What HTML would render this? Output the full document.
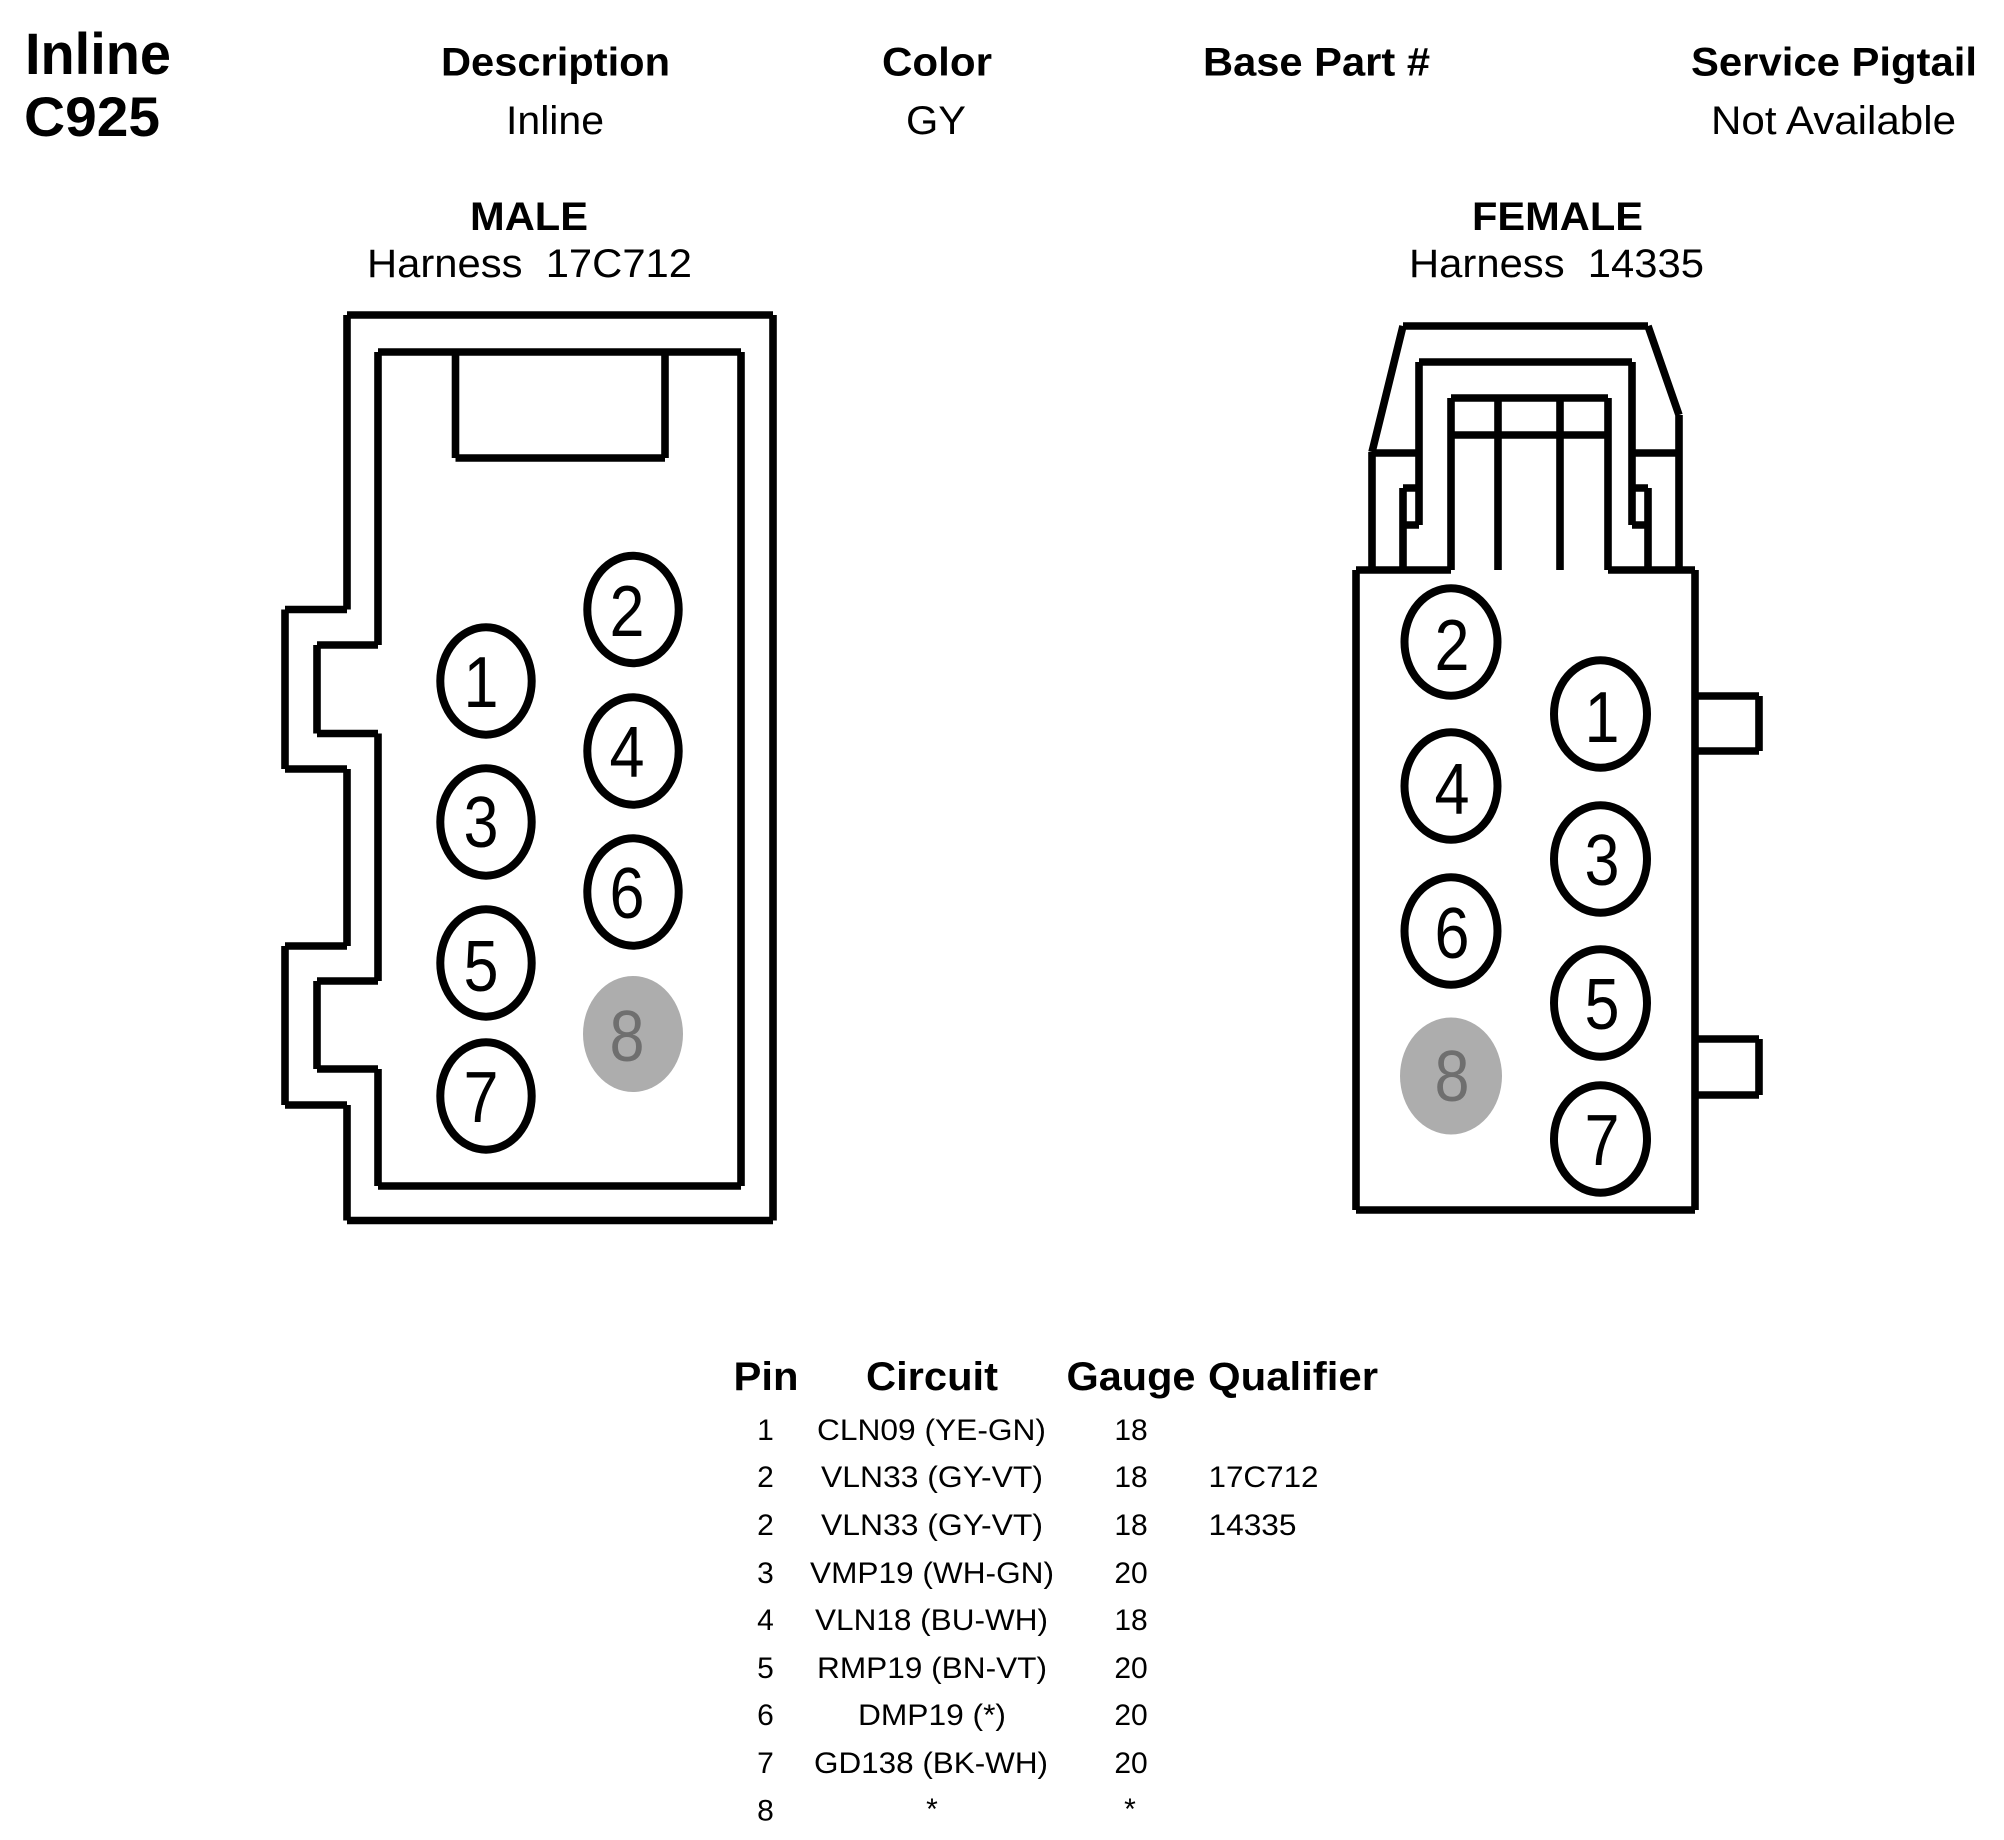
<!DOCTYPE html>
<html>
<head>
<meta charset="utf-8">
<style>
html,body{margin:0;padding:0;background:#fff;width:2004px;height:1840px;overflow:hidden}
svg{display:block}
text{font-family:"Liberation Sans",Arial,sans-serif;fill:#000}
.b{font-weight:bold;font-size:40px}
.r{font-size:40px}
.d{font-size:72px;text-anchor:middle}
.l{fill:none;stroke:#000;stroke-width:7.6}
.p{fill:#fff;stroke:#000;stroke-width:8}
</style>
</head>
<body>
<svg xmlns="http://www.w3.org/2000/svg" width="2004" height="1840" viewBox="0 0 2004 1840">
<rect width="2004" height="1840" fill="#fff"/>

<!-- Header -->
<text x="25" y="74" font-size="58" font-weight="bold" textLength="146" lengthAdjust="spacingAndGlyphs">Inline</text>
<text x="24" y="136" font-size="56" font-weight="bold" textLength="136" lengthAdjust="spacingAndGlyphs">C925</text>
<text class="b" x="441" y="75.5" textLength="229" lengthAdjust="spacingAndGlyphs">Description</text>
<text class="b" x="882" y="75.5" textLength="110" lengthAdjust="spacingAndGlyphs">Color</text>
<text class="b" x="1203" y="75.5" textLength="227" lengthAdjust="spacingAndGlyphs">Base Part #</text>
<text class="b" x="1691" y="75.5" textLength="286" lengthAdjust="spacingAndGlyphs">Service Pigtail</text>
<text class="r" x="506" y="134" textLength="98" lengthAdjust="spacingAndGlyphs">Inline</text>
<text class="r" x="906" y="134" textLength="60" lengthAdjust="spacingAndGlyphs">GY</text>
<text class="r" x="1711" y="134" textLength="245" lengthAdjust="spacingAndGlyphs">Not Available</text>

<text class="b" x="470" y="230" textLength="118" lengthAdjust="spacingAndGlyphs">MALE</text>
<text class="r" x="367" y="277" textLength="325" lengthAdjust="spacingAndGlyphs" xml:space="preserve">Harness  17C712</text>
<text class="b" x="1472" y="230" textLength="171" lengthAdjust="spacingAndGlyphs">FEMALE</text>
<text class="r" x="1409" y="277" textLength="295" lengthAdjust="spacingAndGlyphs" xml:space="preserve">Harness  14335</text>

<!-- Male connector -->
<path class="l" d="M347,315L773,315M773,315L773,1220.5M773,1220.5L347,1220.5M347,1220.5L347,1105M347,1105L285,1105M285,1105L285,946M285,946L347,946M347,946L347,769M347,769L285,769M285,769L285,609.5M285,609.5L347,609.5M347,609.5L347,315"/>
<path class="l" d="M378,352L741,352M741,352L741,1186M741,1186L378,1186M378,1186L378,1069M378,1069L317,1069M317,1069L317,981M317,981L378,981M378,981L378,733.5M378,733.5L317,733.5M317,733.5L317,645M317,645L378,645M378,645L378,352"/>
<path class="l" d="M455.5,352L455.5,458M455.5,458L665,458M665,458L665,352"/>

<ellipse class="p" cx="486" cy="681" rx="45.7" ry="53.7"/>
<ellipse class="p" cx="486" cy="822" rx="45.7" ry="53.7"/>
<ellipse class="p" cx="486" cy="963" rx="45.7" ry="53.7"/>
<ellipse class="p" cx="486" cy="1096" rx="45.7" ry="53.7"/>
<ellipse class="p" cx="633" cy="609.5" rx="45.7" ry="53.7"/>
<ellipse class="p" cx="633" cy="751" rx="45.7" ry="53.7"/>
<ellipse class="p" cx="633" cy="892" rx="45.7" ry="53.7"/>
<ellipse cx="633" cy="1034" rx="50" ry="58" fill="#adadad"/>

<text class="d" x="481" y="707" textLength="35" lengthAdjust="spacingAndGlyphs">1</text>
<text class="d" x="481" y="847" textLength="35" lengthAdjust="spacingAndGlyphs">3</text>
<text class="d" x="481" y="991" textLength="35" lengthAdjust="spacingAndGlyphs">5</text>
<text class="d" x="481" y="1122" textLength="35" lengthAdjust="spacingAndGlyphs">7</text>
<text class="d" x="627" y="636" textLength="35" lengthAdjust="spacingAndGlyphs">2</text>
<text class="d" x="627" y="777" textLength="35" lengthAdjust="spacingAndGlyphs">4</text>
<text class="d" x="627" y="918" textLength="35" lengthAdjust="spacingAndGlyphs">6</text>
<text class="d" x="627" y="1061" textLength="35" lengthAdjust="spacingAndGlyphs" style="fill:#6f6f6f">8</text>

<!-- Female connector -->
<path class="l" d="M1403,326L1648,326M1403,326L1372,452M1648,326L1679,415M1372,452L1372,570M1679,415L1679,570M1372,453L1419,453M1632,453L1679,453"/>
<path class="l" d="M1419,362L1632,362M1419,362L1419,525M1632,362L1632,525M1403,488L1419,488M1403,525L1419,525M1403,488L1403,570M1632,488L1648,488M1632,525L1648,525M1648,488L1648,570"/>
<path class="l" d="M1451,398L1608,398M1451,398L1451,570M1608,398L1608,570M1451,435L1608,435M1498,398L1498,570M1560,398L1560,570"/>
<path class="l" d="M1356,570L1451,570M1608,570L1695,570M1356,570L1356,1210M1356,1210L1695,1210M1695,570L1695,1210"/>
<path class="l" d="M1695,696L1759,696M1759,696L1759,751M1759,751L1695,751M1695,1039L1759,1039M1759,1039L1759,1095M1759,1095L1695,1095"/>

<ellipse class="p" cx="1451" cy="642" rx="46.5" ry="53.7"/>
<ellipse class="p" cx="1451" cy="786" rx="46.5" ry="53.7"/>
<ellipse class="p" cx="1451" cy="931" rx="46.5" ry="53.7"/>
<ellipse cx="1451" cy="1076" rx="51" ry="58.5" fill="#adadad"/>
<ellipse class="p" cx="1600.5" cy="714" rx="46.5" ry="53.7"/>
<ellipse class="p" cx="1600.5" cy="859" rx="46.5" ry="53.7"/>
<ellipse class="p" cx="1600.5" cy="1003" rx="46.5" ry="53.7"/>
<ellipse class="p" cx="1600.5" cy="1139" rx="46.5" ry="53.7"/>

<text class="d" x="1452" y="670" textLength="35" lengthAdjust="spacingAndGlyphs">2</text>
<text class="d" x="1452" y="814" textLength="35" lengthAdjust="spacingAndGlyphs">4</text>
<text class="d" x="1452" y="958" textLength="35" lengthAdjust="spacingAndGlyphs">6</text>
<text class="d" x="1452" y="1101" textLength="35" lengthAdjust="spacingAndGlyphs" style="fill:#6f6f6f">8</text>
<text class="d" x="1602" y="742" textLength="35" lengthAdjust="spacingAndGlyphs">1</text>
<text class="d" x="1602" y="885" textLength="35" lengthAdjust="spacingAndGlyphs">3</text>
<text class="d" x="1602" y="1029" textLength="35" lengthAdjust="spacingAndGlyphs">5</text>
<text class="d" x="1602" y="1165" textLength="35" lengthAdjust="spacingAndGlyphs">7</text>

<!-- Table -->
<text class="b" x="733.5" y="1390" textLength="65" lengthAdjust="spacingAndGlyphs">Pin</text>
<text class="b" x="866" y="1390" textLength="132" lengthAdjust="spacingAndGlyphs">Circuit</text>
<text class="b" x="1066.5" y="1390" textLength="129" lengthAdjust="spacingAndGlyphs">Gauge</text>
<text class="b" x="1208" y="1390" textLength="170" lengthAdjust="spacingAndGlyphs">Qualifier</text>

<g style="font-size:30px" text-anchor="middle">
<text x="765.5" y="1440">1</text>
<text x="765.5" y="1487">2</text>
<text x="765.5" y="1535">2</text>
<text x="765.5" y="1583">3</text>
<text x="765.5" y="1630">4</text>
<text x="765.5" y="1678">5</text>
<text x="765.5" y="1725">6</text>
<text x="765.5" y="1773">7</text>
<text x="765.5" y="1820.5">8</text>
<text x="1131" y="1440">18</text>
<text x="1131" y="1487">18</text>
<text x="1131" y="1535">18</text>
<text x="1131" y="1583">20</text>
<text x="1131" y="1630">18</text>
<text x="1131" y="1678">20</text>
<text x="1131" y="1725">20</text>
<text x="1131" y="1773">20</text>
<text x="1130" y="1819">*</text>
<text x="932" y="1819">*</text>
</g>
<g style="font-size:30px">
<text x="817" y="1440" textLength="229" lengthAdjust="spacingAndGlyphs">CLN09 (YE-GN)</text>
<text x="821" y="1487" textLength="222" lengthAdjust="spacingAndGlyphs">VLN33 (GY-VT)</text>
<text x="821" y="1535" textLength="222" lengthAdjust="spacingAndGlyphs">VLN33 (GY-VT)</text>
<text x="810" y="1583" textLength="244" lengthAdjust="spacingAndGlyphs">VMP19 (WH-GN)</text>
<text x="815" y="1630" textLength="233" lengthAdjust="spacingAndGlyphs">VLN18 (BU-WH)</text>
<text x="817" y="1678" textLength="230" lengthAdjust="spacingAndGlyphs">RMP19 (BN-VT)</text>
<text x="858" y="1725" textLength="148" lengthAdjust="spacingAndGlyphs">DMP19 (*)</text>
<text x="814" y="1773" textLength="234" lengthAdjust="spacingAndGlyphs">GD138 (BK-WH)</text>
<text x="1208.5" y="1487" textLength="110" lengthAdjust="spacingAndGlyphs">17C712</text>
<text x="1208.5" y="1535" textLength="88" lengthAdjust="spacingAndGlyphs">14335</text>
</g>
</svg>
</body>
</html>
